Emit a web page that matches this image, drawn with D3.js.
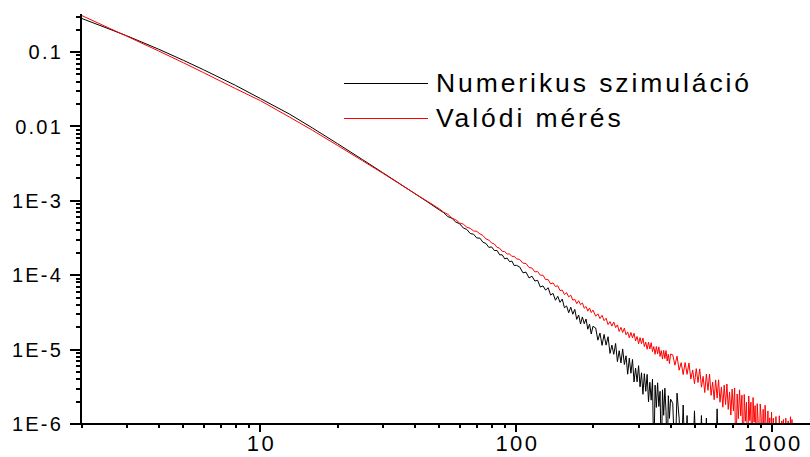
<!DOCTYPE html>
<html>
<head>
<meta charset="utf-8">
<script src="https://cdn.jsdelivr.net/npm/d3@7"></script>
<style>
  html, body { margin: 0; padding: 0; background: #fff; }
  svg { display: block; }
</style>
</head>
<body>
<svg id="chart" width="810" height="457"></svg>
<script>
// Bin sizes (x) shared by both distributions
const binSizes = [
  2,3,4,5,6,8,10,13,16,20,25,30,35,40,45,50,
  52,54,56,58,60,62,64,66,68,70,72,74,76,78,80,82,84,86,88,90,92,94,96,98,100,
  103,106,109,112,115,118,121,124,127,130,133,136,139,142,145,148,151,154,157,160,163,166,169,172,175,178,181,184,187,190,193,196,199,
  204,208,212,216,220,224,228,232,236,240,244,248,252,256,260,264,268,272,276,280,284,288,292,296,300,304,308,312,316,320,324,328,332,336,340,344,348,352,356,360,364,368,372,376,380,384,388,392,396,400,
  408,416,424,432,440,448,456,464,472,480,488,496,504,512,520,528,536,544,552,560,568,576,584,592,600,608,616,624,632,640,
  648,656,664,672,680,688,696,704,712,720,728,736,744,752,760,768,776,784,792,800,808,816,824,832,840,848,856,864,872,880,
  888,896,904,912,920,928,936,944,952,960,968,976,984,992,1000,1008,1016,1024,1032,1040,1048,1056,1064,1072,1080,1088,1096,1104,1112,1120,
  1128,1136,1144,1152,1160,1168,1176,1184,1192,1200
];

// Numerikus szimuláció (0 = empty bin)
const simulated = [
  0.284,0.166,0.1095,0.0775,0.0578,0.0356,0.0237,0.01465,9.50e-3,5.87e-3,3.60e-3,2.40e-3,1.70e-3,1.26e-3,9.64e-4,7.55e-4,
  6.93e-4,6.14e-4,5.82e-4,5.18e-4,4.92e-4,4.32e-4,4.13e-4,3.63e-4,3.56e-4,3.17e-4,3.15e-4,2.77e-4,2.68e-4,2.37e-4,2.40e-4,2.15e-4,2.15e-4,1.88e-4,1.88e-4,1.66e-4,1.70e-4,1.52e-4,1.55e-4,1.35e-4,1.36e-4,
  1.29e-4,1.08e-4,1.10e-4,9.20e-5,9.70e-5,8.36e-5,8.55e-5,6.93e-5,7.19e-5,6.31e-5,6.79e-5,5.41e-5,5.70e-5,4.61e-5,5.21e-5,4.32e-5,4.78e-5,3.65e-5,3.87e-5,3.13e-5,3.72e-5,2.99e-5,3.48e-5,2.55e-5,2.92e-5,2.21e-5,2.75e-5,2.23e-5,2.58e-5,1.88e-5,2.20e-5,1.62e-5,2.06e-5,
  1.95e-5,1.34e-5,1.67e-5,1.14e-5,1.60e-5,1.15e-5,1.49e-5,8.89e-6,1.15e-5,8.65e-6,1.21e-5,6.90e-6,9.66e-6,6.62e-6,1.02e-5,6.31e-6,8.26e-6,4.67e-6,7.67e-6,4.81e-6,7.38e-6,3.67e-6,5.64e-6,3.69e-6,6.08e-6,3.16e-6,4.88e-6,2.51e-6,4.75e-6,2.75e-6,4.65e-6,1.99e-6,3.63e-6,2.09e-6,4.01e-6,0,3.33e-6,1.67e-6,3.58e-6,1.72e-6,2.75e-6,0,2.88e-6,1.31e-6,3.03e-6,1.48e-6,0,2.40e-6,1.19e-6,2.16e-6,
  1.9e-6,0,2.6e-6,1.2e-6,0,1.8e-6,0,1.3e-6,0,0,0,1.5e-6,0,0,0,1.3e-6,0,0,1.2e-6,0,0,0,0,0,0,1.6e-6,0,0,0,0
];

// Valódi mérés (0 = empty bin)
const measured = [
  0.311,0.164,0.1035,0.0718,0.0528,0.0322,0.0222,0.01335,8.85e-3,5.56e-3,3.47e-3,2.36e-3,1.69e-3,1.26e-3,9.8e-4,7.80e-4,
  7.03e-4,6.58e-4,5.86e-4,5.56e-4,5.04e-4,4.86e-4,4.42e-4,4.27e-4,3.94e-4,3.89e-4,3.60e-4,3.42e-4,3.08e-4,2.97e-4,2.71e-4,2.63e-4,2.37e-4,2.31e-4,2.09e-4,2.08e-4,1.93e-4,1.94e-4,1.79e-4,1.80e-4,1.66e-4,
  1.63e-4,1.45e-4,1.44e-4,1.27e-4,1.25e-4,1.11e-4,1.12e-4,1.00e-4,1.00e-4,8.75e-5,8.73e-5,7.64e-5,7.89e-5,7.05e-5,7.23e-5,6.22e-5,6.31e-5,5.50e-5,5.82e-5,5.12e-5,5.40e-5,4.62e-5,4.75e-5,4.15e-5,4.54e-5,4.02e-5,4.24e-5,3.60e-5,3.80e-5,3.29e-5,3.63e-5,3.15e-5,3.40e-5,
  2.81e-5,3.03e-5,2.62e-5,2.89e-5,2.45e-5,2.64e-5,2.17e-5,2.38e-5,2.07e-5,2.35e-5,1.98e-5,2.15e-5,1.75e-5,1.99e-5,1.70e-5,1.95e-5,1.58e-5,1.73e-5,1.44e-5,1.70e-5,1.44e-5,1.66e-5,1.31e-5,1.50e-5,1.20e-5,1.45e-5,1.20e-5,1.43e-5,1.10e-5,1.26e-5,1.01e-5,1.26e-5,1.02e-5,1.24e-5,9.42e-6,1.10e-5,8.65e-6,1.10e-5,8.79e-6,1.09e-5,8.09e-6,9.72e-6,7.46e-6,9.77e-6,7.59e-6,9.70e-6,7.03e-6,8.67e-6,6.50e-6,8.71e-6,
  8.51e-6,6.18e-6,8.17e-6,5.28e-6,6.67e-6,4.62e-6,6.70e-6,4.65e-6,6.62e-6,4.02e-6,5.33e-6,3.48e-6,5.55e-6,3.61e-6,5.51e-6,3.12e-6,4.37e-6,2.65e-6,4.67e-6,2.84e-6,
  4.68e-6,2.43e-6,3.65e-6,2.12e-6,3.92e-6,2.23e-6,3.93e-6,1.96e-6,3.15e-6,1.68e-6,3.33e-6,1.82e-6,3.45e-6,1.57e-6,2.70e-6,1.32e-6,2.94e-6,1.50e-6,3.05e-6,0,
  2.53e-6,1.18e-6,2.88e-6,1.29e-6,2.44e-6,0,2.49e-6,1.09e-6,1.97e-6,0,2.38e-6,1.11e-6,1.97e-6,0,2.27e-6,1.06e-6,1.77e-6,0,1.88e-6,1.04e-6,
  0,1.86e-6,1.23e-6,0,1.58e-6,0,1.79e-6,9.9e-7,0,1.50e-6,0,1.21e-6,0,1.45e-6,0,1.20e-6,0,0,1.26e-6,0,
  1.02e-6,0,1.29e-6,0,0,1.1e-6,0,1.15e-6,0,0,1.2e-6,0,0,1.1e-6,0,0,1.25e-6,0,1.15e-6,0
];

const seriesNames = ["Numerikus szimuláció", "Valódi mérés"];
const seriesColors = ["#000000", "#ff0000"];
const xTickValues = [10, 100, 1000];
const xTickLabels = ["10", "100", "1000"];
const yTickValues = [1e-6, 1e-5, 1e-4, 1e-3, 0.01, 0.1];
const yTickLabels = ["1E-6", "1E-5", "1E-4", "1E-3", "0.01", "0.1"];

const FONT = "'Liberation Sans', Arial, Helvetica, sans-serif";
const svg = d3.select("#chart");

const axisX = 81, axisY = 424;
const x = d3.scaleLog().domain([2, 2000]).range([81.5, 849.5]);
const y = d3.scaleLog().domain([1e-6, 0.325]).range([axisY, 14]);

// Plot area clip
svg.append("defs").append("clipPath").attr("id", "plotClip")
  .append("rect").attr("x", axisX).attr("y", 0)
  .attr("width", 810 - axisX).attr("height", axisY);

// Empty bins fall off the bottom of the log axis
const line = d3.line()
  .x(d => x(d[0]))
  .y(d => d[1] > 0 ? y(d[1]) : axisY + 40);

const series = [simulated, measured];
const plot = svg.append("g").attr("clip-path", "url(#plotClip)");
series.forEach((vals, k) => {
  const pts = vals.map((v, i) => [binSizes[i], v]);
  plot.append("path")
    .datum(pts)
    .attr("fill", "none")
    .attr("stroke", seriesColors[k])
    .attr("stroke-width", 1)
    .attr("d", line);
});

// Axes
const axisG = svg.append("g").attr("stroke", "#000").attr("stroke-width", 2);
axisG.append("line").attr("x1", axisX).attr("x2", axisX).attr("y1", y.range()[1]).attr("y2", axisY + 1);
axisG.append("line").attr("x1", axisX - 1).attr("x2", 810).attr("y1", axisY).attr("y2", axisY);

const isMajor = v => Math.abs(Math.log10(v) - Math.round(Math.log10(v))) < 1e-9;

// y ticks (outward, left)
y.ticks().forEach(v => {
  const yy = Math.round(y(v));
  const major = isMajor(v);
  axisG.append("line")
    .attr("x1", major ? 70 : 76).attr("x2", axisX)
    .attr("y1", yy).attr("y2", yy);
});

// x ticks (outward, down)
x.ticks().filter(v => x(v) <= 810).forEach(v => {
  const xx = Math.round(x(v));
  const major = isMajor(v);
  axisG.append("line")
    .attr("x1", xx).attr("x2", xx)
    .attr("y1", axisY).attr("y2", axisY + (major ? 8 : 4));
});

// Tick labels
svg.append("g").selectAll("text").data(yTickValues).join("text")
  .attr("x", 63)
  .attr("y", d => y(d) + 7.2)
  .attr("text-anchor", "end")
  .attr("font-family", FONT)
  .attr("font-size", 20)
  .attr("letter-spacing", "0.11em")
  .attr("fill", "#000")
  .text((d, i) => yTickLabels[i]);

svg.append("g").selectAll("text").data(xTickValues).join("text")
  .attr("x", d => x(d) + 1)
  .attr("y", 451)
  .attr("text-anchor", "middle")
  .attr("font-family", FONT)
  .attr("font-size", 22)
  .attr("letter-spacing", "0.11em")
  .attr("fill", "#000")
  .text((d, i) => xTickLabels[i]);

// Legend
const legendRows = [83.5, 118.5];
const legend = svg.append("g");
seriesNames.forEach((name, k) => {
  legend.append("line")
    .attr("x1", 344).attr("x2", 428)
    .attr("y1", legendRows[k]).attr("y2", legendRows[k])
    .attr("stroke", seriesColors[k]).attr("stroke-width", 1);
  legend.append("text")
    .attr("x", 436)
    .attr("y", legendRows[k] + 8.8)
    .attr("font-family", FONT)
    .attr("font-size", 26.5)
    .attr("letter-spacing", "0.11em")
    .attr("fill", "#000")
    .text(name);
});
</script>
</body>
</html>
